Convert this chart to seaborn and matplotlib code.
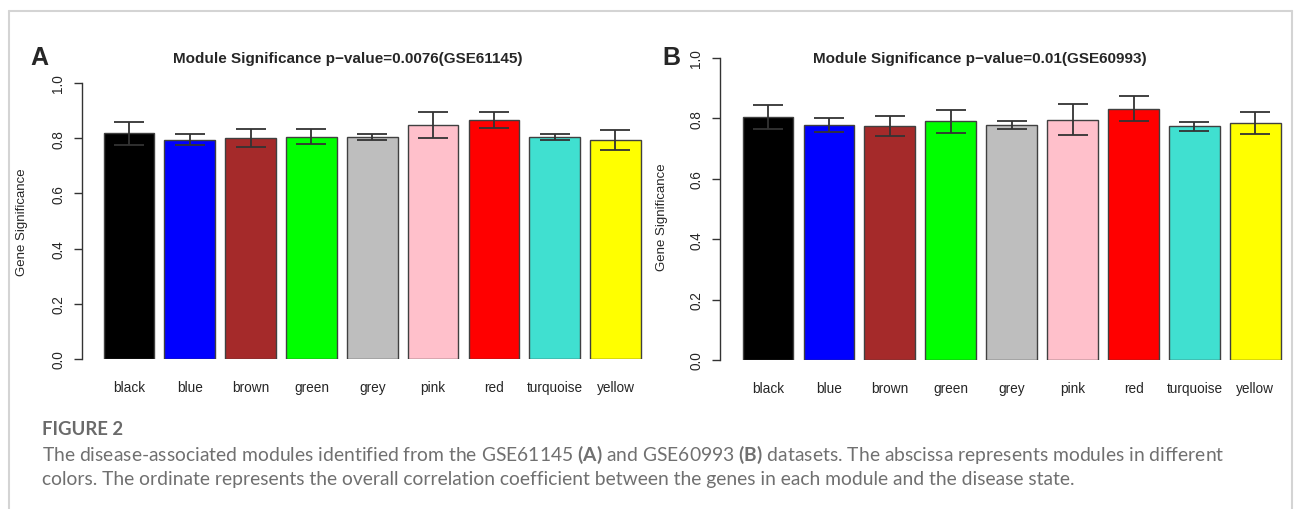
import numpy as np
import pandas as pd
import seaborn as sns
import matplotlib.pyplot as plt
from matplotlib.lines import Line2D

# Module colours (x categories) and their R colour values
modules = ['black', 'blue', 'brown', 'green', 'grey', 'pink', 'red', 'turquoise', 'yellow']
module_colors = ['#000000', '#0000FF', '#A52A2A', '#00FF00', '#BEBEBE',
                 '#FFC0CB', '#FF0000', '#40E0D0', '#FFFF00']

# Panel A: GSE61145 mean gene significance and error
gs_a = [0.818, 0.794, 0.801, 0.806, 0.805, 0.847, 0.866, 0.804, 0.795]
err_a = [0.041, 0.020, 0.032, 0.028, 0.011, 0.047, 0.028, 0.012, 0.036]

# Panel B: GSE60993
gs_b = [0.804, 0.778, 0.776, 0.790, 0.777, 0.796, 0.832, 0.774, 0.785]
err_b = [0.040, 0.022, 0.033, 0.039, 0.013, 0.052, 0.041, 0.015, 0.035]

yticks = [0.0, 0.2, 0.4, 0.6, 0.8, 1.0]

sns.set_style('white')
plt.rcParams['font.family'] = ['Liberation Sans', 'DejaVu Sans']
plt.rcParams['mathtext.fontset'] = 'custom'
plt.rcParams['mathtext.bf'] = 'Lato:bold'
plt.rcParams['mathtext.rm'] = 'Lato'

W, H = 1295, 510
fig = plt.figure(figsize=(W / 100, H / 100), dpi=100)


def draw_panel(rect, values, errors, title, letter, letter_x, title_x,
               xlim, ylabel_xy):
    ax = fig.add_axes(rect)
    df = pd.DataFrame({'module': modules, 'gs': values})
    sns.barplot(data=df, x='module', y='gs', hue='module', palette=module_colors,
                saturation=1, legend=False, width=0.833, edgecolor='#404040',
                linewidth=1.0, errorbar=None, ax=ax)
    ax.errorbar(np.arange(len(modules)), values, yerr=errors, fmt='none',
                ecolor='#333333', elinewidth=1.3, capsize=10.5, capthick=1.3)
    ax.set_xlim(*xlim)
    ax.set_ylim(0, 1.0)
    for s in ['top', 'right', 'bottom']:
        ax.spines[s].set_visible(False)
    ax.spines['left'].set_color('#333333')
    ax.spines['left'].set_linewidth(1.0)
    ax.spines['left'].set_bounds(0, 1.0)
    ax.set_yticks(yticks)
    ax.set_yticklabels([f'{t:.1f}' for t in yticks], rotation=90, va='center')
    ax.tick_params(axis='y', length=6, width=1.0, color='#333333', pad=6,
                   labelsize=9.8, left=True)
    ax.tick_params(axis='x', length=0, pad=15, labelsize=9.8)
    ax.set_xlabel('')
    ax.set_ylabel('Gene Significance', fontsize=9.5)
    ax.yaxis.set_label_coords(*ylabel_xy)
    fig.text(title_x / W, 1 - 59 / H, title, fontsize=11, fontweight='bold',
             ha='center', va='center')
    fig.text(letter_x / W, 1 - 65 / H, letter, fontsize=18, fontweight='bold',
             ha='left', va='baseline')
    return ax


# panel A: axis at x=82, y 0->360 px, 1.0->84 px
draw_panel([82 / W, 150 / H, 580.5 / W, 276 / H], gs_a, err_a,
           'Module Significance p\u2212value=0.0076(GSE61145)', 'A', 30, 348,
           (-0.773, 8.773), (-0.093, 0.5))
# panel B: axis at x=720, y 0->361 px, 1.0->59 px
draw_panel([720 / W, 149 / H, 575 / W, 302 / H], gs_b, err_b,
           'Module Significance p\u2212value=0.01(GSE60993)', 'B', 662, 980,
           (-0.788, 8.65), (-0.09, 0.475))

# caption
cap_font = ['Lato', 'DejaVu Sans']
fig.text(42 / W, 1 - 430 / H, 'FIGURE 2', fontsize=13.3, fontweight='bold',
         color='#6a6a6a', family=cap_font, va='center')
fig.text(42 / W, 1 - 455 / H,
         'The disease-associated modules identified from the GSE61145 $\\mathbf{(A)}$ and '
         'GSE60993 $\\mathbf{(B)}$ datasets. The abscissa represents modules in different',
         fontsize=13.85, color='#707070', family=cap_font, va='center')
fig.text(42 / W, 1 - 480 / H,
         'colors. The ordinate represents the overall correlation coefficient between '
         'the genes in each module and the disease state.',
         fontsize=13.85, color='#707070', family=cap_font, va='center')

# light frame around the figure
frame_kw = dict(color='#d4d4d4', linewidth=1.5, transform=fig.transFigure)
fig.add_artist(Line2D([9 / W, 1292 / W], [1 - 12 / H, 1 - 12 / H], **frame_kw))
fig.add_artist(Line2D([9 / W, 9 / W], [1 - 12 / H, 0], **frame_kw))
fig.add_artist(Line2D([1292 / W, 1292 / W], [1 - 12 / H, 0], **frame_kw))

fig.savefig('out.png', dpi=100)
